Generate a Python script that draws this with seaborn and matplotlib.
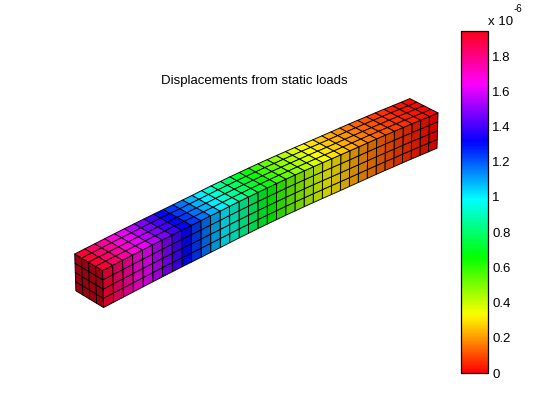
import numpy as np
import matplotlib
matplotlib.use('Agg')
import matplotlib.pyplot as plt
from matplotlib.cm import ScalarMappable
from matplotlib.colors import Normalize
import seaborn as sns

# mesh stations, in element counts
length_stations = np.arange(37)
width_stations = [0, 1, 2, 3, 4]
height_stations = [0, 1, 2, 3, 4]

# displacement along the beam, x 10^-6
displacement = [1.93, 1.87, 1.80, 1.73, 1.65, 1.59, 1.52, 1.44, 1.36, 1.28,
                1.20, 1.13, 1.04, 0.97, 0.89, 0.82, 0.75, 0.68, 0.62, 0.56,
                0.50, 0.45, 0.41, 0.36, 0.32, 0.28, 0.24, 0.21, 0.18, 0.15,
                0.12, 0.095, 0.07, 0.055, 0.035, 0.02, 0.0]

# bow of the deformed shape, in element heights
bow = [0.5, 0.54, 0.57, 0.61, 0.64, 0.67, 0.7, 0.72, 0.74, 0.75,
       0.76, 0.78, 0.79, 0.82, 0.84, 0.84, 0.85, 0.84, 0.83, 0.82,
       0.79, 0.76, 0.72, 0.68, 0.63, 0.58, 0.54, 0.5, 0.46, 0.42,
       0.37, 0.31, 0.26, 0.2, 0.13, 0.06, 0.0]

cbar_ticks = [0, 0.2, 0.4, 0.6, 0.8, 1, 1.2, 1.4, 1.6, 1.8]
cbar_labels = ['0', '0.2', '0.4', '0.6', '0.8', '1', '1.2', '1.4', '1.6', '1.8']
cbar_max = 1.943

sns.set_theme(style='white')
plt.rcParams['font.family'] = ['Liberation Sans', 'DejaVu Sans']

cmap = sns.color_palette('hsv', as_cmap=True)
norm = Normalize(vmin=0, vmax=cbar_max)

disp = np.array(displacement)
lift = np.array(bow)
cell_disp = (disp[:-1] + disp[1:]) / 2


def cell_colors(values, light):
    rgb = cmap(norm(values))[..., :3] * light
    return rgb


fig = plt.figure(figsize=(5.6, 4.2), dpi=100)
ax = fig.add_axes([-0.0414, 0.007, 1, 1], projection='3d', computed_zorder=False)
ax.set_proj_type('persp', focal_length=1.6)
ax.view_init(elev=31.2, azim=226.9)
ax.set_xlim(0, 36)
ax.set_ylim(0, 4)
ax.set_zlim(-4, 8)
ax.set_box_aspect((2.01, 0.18, 0.555), zoom=1.10)
ax.set_axis_off()

edge = dict(edgecolor='black', linewidth=0.65, rstride=1, cstride=1, shade=False, antialiased=True)

# top face
X, Y = np.meshgrid(length_stations, width_stations, indexing='ij')
Z = 4 + lift[:, None] * np.ones_like(X)
colors = cell_colors(np.repeat(cell_disp[:, None], 4, axis=1), 1.0)
ax.plot_surface(X, Y, Z, facecolors=colors, zorder=3, **edge)

# long side face
X, H = np.meshgrid(length_stations, height_stations, indexing='ij')
Z = H + lift[:, None]
colors = cell_colors(np.repeat(cell_disp[:, None], 4, axis=1), 0.82)
ax.plot_surface(X, np.zeros_like(X), Z, facecolors=colors, zorder=2, **edge)

# free end
Y, H = np.meshgrid(width_stations, height_stations, indexing='ij')
colors = cell_colors(np.full((4, 4), disp[0]), 0.6)
ax.plot_surface(np.zeros_like(Y), Y, H + lift[0], facecolors=colors, zorder=1, **edge)

fig.text(254 / 560, 1 - 81 / 420, 'Displacements from static loads', fontsize=9.5,
         color='black', ha='center', va='center')

cax = fig.add_axes([461 / 560, 47 / 420, 27 / 560, 342 / 420])
cb = fig.colorbar(ScalarMappable(norm=norm, cmap=cmap), cax=cax)
cb.set_ticks(cbar_ticks)
cb.set_ticklabels(cbar_labels)
cb.outline.set_edgecolor('black')
cb.outline.set_linewidth(0.9)
cax.tick_params(axis='y', direction='in', length=3, width=0.8, left=True, right=True,
                labelsize=9.5, pad=3, colors='black')
cax.minorticks_off()

fig.text(488 / 560, 1 - 22 / 420, 'x 10', fontsize=9.5, color='black', ha='left', va='center')
fig.text(514 / 560, 1 - 9 / 420, '-6', fontsize=7, color='black', ha='left', va='center')

fig.savefig('out.png', dpi=100, facecolor='white')
